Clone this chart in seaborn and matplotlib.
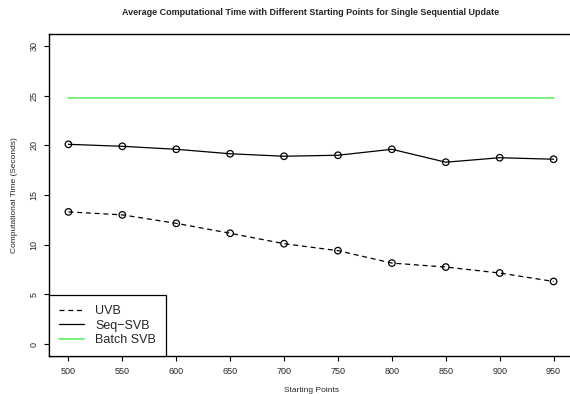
import numpy as np
import pandas as pd
import matplotlib
matplotlib.use('Agg')
import matplotlib.pyplot as plt
import seaborn as sns

# datos
starting_points = [500, 550, 600, 650, 700, 750, 800, 850, 900, 950]
uvb = [13.3, 13.0, 12.15, 11.15, 10.1, 9.4, 8.15, 7.75, 7.15, 6.3]
seq_svb = [20.1, 19.9, 19.6, 19.15, 18.9, 19.0, 19.6, 18.3, 18.75, 18.6]
batch_svb = [24.8] * len(starting_points)
y_ticks = [0, 5, 10, 15, 20, 25, 30]
x_ticks = starting_points

sns.set_theme(style='ticks')
plt.rcParams['font.family'] = ['Liberation Sans', 'DejaVu Sans']

fig = plt.figure(figsize=(5.7, 3.94), dpi=100)
ax = fig.add_axes([49/570, 1-356/394, (573-49)/570, (356-34)/394])

df = pd.DataFrame({'x': starting_points, 'uvb': uvb, 'seq': seq_svb, 'batch': batch_svb})

sns.lineplot(data=df, x='x', y='uvb', ax=ax, color='black', lw=0.9, label='UVB')
ax.lines[-1].set_dashes((4, 3))
sns.lineplot(data=df, x='x', y='seq', ax=ax, color='black', lw=0.9, label='Seq\u2212SVB')
sns.lineplot(data=df, x='x', y='batch', ax=ax, color='#66ee66', lw=1.2, label='Batch SVB')
# puntos
sns.scatterplot(data=df, x='x', y='uvb', ax=ax, marker='o', s=22, facecolor='none',
                edgecolor='black', linewidth=0.9, zorder=3)
sns.scatterplot(data=df, x='x', y='seq', ax=ax, marker='o', s=22, facecolor='none',
                edgecolor='black', linewidth=0.9, zorder=3)

ax.set_xlim(482, 968)
ax.set_ylim(-1.2, 31.2)
ax.set_xticks(x_ticks)
ax.set_yticks(y_ticks)
ax.tick_params(axis='both', labelsize=6.5, length=3.6, width=0.8, pad=4.0, color='black')
plt.setp(ax.get_yticklabels(), rotation=90, va='center')
for s in ['left', 'bottom', 'top']:
    ax.spines[s].set_linewidth(1.0)
    ax.spines[s].set_color('black')
ax.spines['right'].set_visible(False)

ax.set_xlabel('Starting Points', fontsize=6, labelpad=8)
ax.set_ylabel('Computational Time (Seconds)', fontsize=6, labelpad=8)
ax.set_title('Average Computational Time with Different Starting Points for Single Sequential Update',
             fontsize=6.5, fontweight='bold', pad=14)

leg = ax.legend(loc='lower left', borderaxespad=0, fontsize=9, frameon=True, fancybox=False,
                edgecolor='black', framealpha=1, handlelength=2.0, handletextpad=0.9,
                labelspacing=0.2, borderpad=0.8)
leg.get_frame().set_linewidth(0.9)

fig.savefig('out.png', dpi=100)
